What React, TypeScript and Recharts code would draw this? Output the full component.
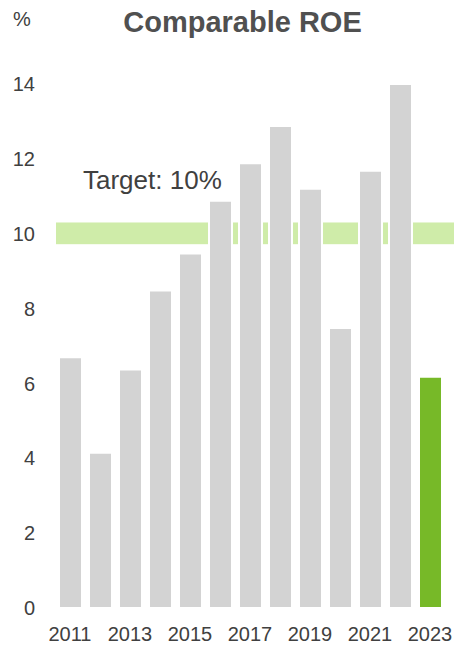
import { BarChart, Bar, XAxis, YAxis, ReferenceArea, Cell } from "recharts";

const years = ["2011", "2012", "2013", "2014", "2015", "2016", "2017", "2018", "2019", "2020", "2021", "2022", "2023"];
const roe = [6.7, 4.15, 6.37, 8.48, 9.47, 10.88, 11.88, 12.88, 11.2, 7.48, 11.68, 14.0, 6.18];
const yTicks = [0, 2, 4, 6, 8, 10, 12, 14];
const targetLow = 9.72;
const targetHigh = 10.3;
const targetLabel = "Target: 10%";

const data = years.map((year, i) => ({ year, roe: roe[i] }));

const FONT = "'Liberation Sans', Arial, sans-serif";

const TargetLabel = (props: any) => {
  const { x, y } = props.viewBox;
  return (
    <text x={x + 28} y={y - 33} fill="#404040" fontSize={26} fontFamily={FONT}>
      {targetLabel}
    </text>
  );
};

// band runs on past the last bar, to the right edge
const TargetBand = (props: any) => (
  <rect x={props.x + 1} y={props.y} width={props.width + 8} height={props.height} fill="#cfeca9" />
);

export default function App() {
  return (
    <div style={{ position: "absolute", left: 0, top: 0, width: 454, height: 645, background: "#fff", fontFamily: FONT }}>
      <div style={{ position: "absolute", left: 0, top: 8, width: 485, textAlign: "center", fontSize: 29, lineHeight: "29px", fontWeight: "bold", color: "#505050", whiteSpace: "nowrap" }}>
        Comparable ROE
      </div>
      <div style={{ position: "absolute", left: 13, top: 9, fontSize: 20, lineHeight: "20px", color: "#404040" }}>%</div>
      <BarChart width={454} height={645} data={data} margin={{ top: 84, right: 0, bottom: 0, left: 0 }}>
        <XAxis
          dataKey="year"
          interval={1}
          axisLine={false}
          tickLine={false}
          tickSize={0}
          tickMargin={19}
          height={37}
          padding={{ left: 0, right: 9 }}
          tick={{ fill: "#404040", fontSize: 20, fontFamily: FONT }}
        />
        <YAxis
          domain={[0, 14]}
          ticks={yTicks}
          width={55}
          axisLine={false}
          tickLine={false}
          tickSize={0}
          tickMargin={20}
          tick={{ fill: "#404040", fontSize: 20, fontFamily: FONT }}
        />
        <ReferenceArea y1={targetLow} y2={targetHigh} shape={<TargetBand />} label={<TargetLabel />} />
        <Bar dataKey="roe" barSize={23} stroke="#ffffff" strokeWidth={2} isAnimationActive={false}>
          {data.map((d, i) => (
            <Cell key={d.year} fill={i === data.length - 1 ? "#77b928" : "#d3d3d3"} />
          ))}
        </Bar>
      </BarChart>
    </div>
  );
}
